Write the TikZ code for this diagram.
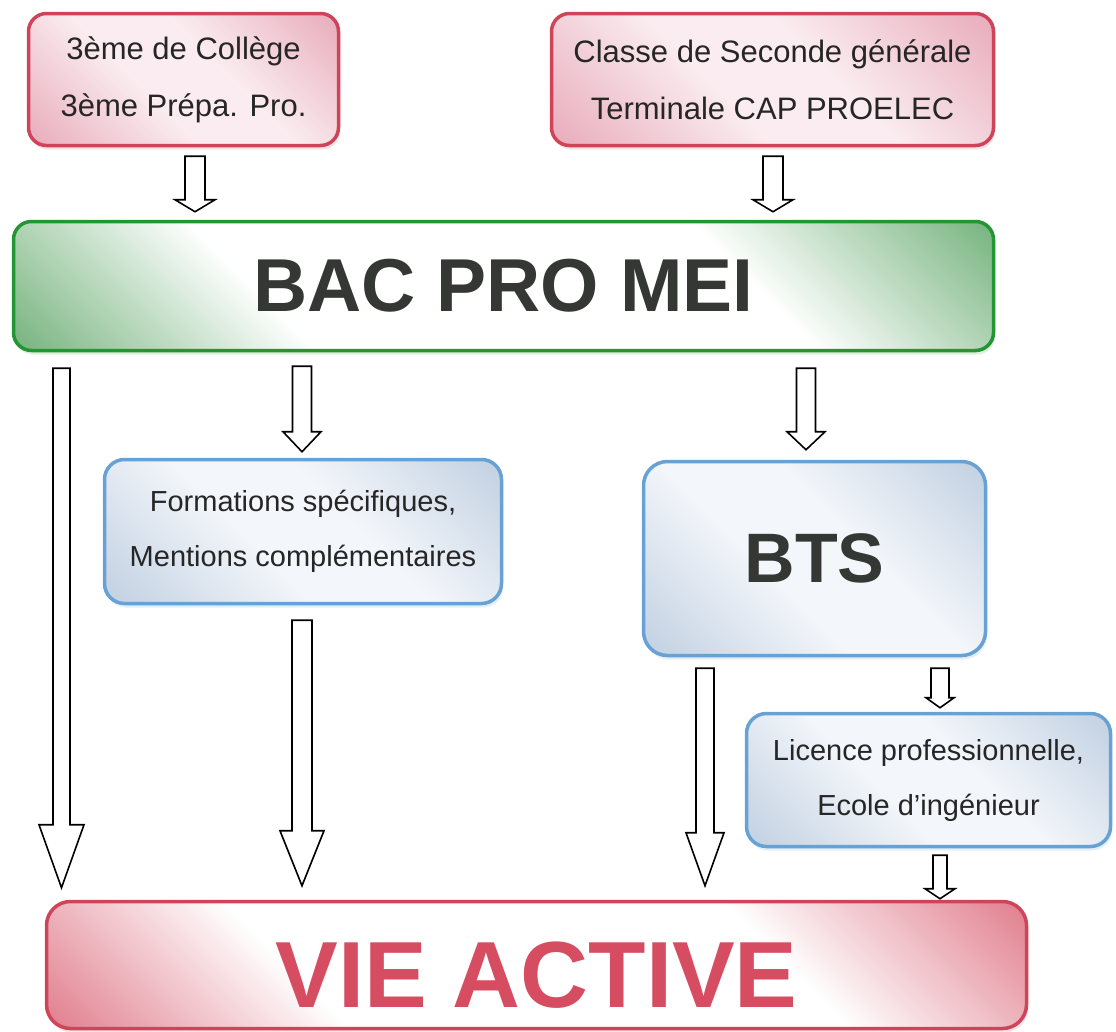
\documentclass[tikz,border=0pt]{standalone}
\usepackage{fontspec}
\setmainfont{Liberation Sans}
\usepackage{tikz}
\usetikzlibrary{calc,shadows}

\definecolor{redline}{RGB}{208,68,90}
\definecolor{pinkedge}{RGB}{232,170,186}
\definecolor{pinkmid}{RGB}{250,236,240}
\definecolor{greenline}{RGB}{34,150,52}
\definecolor{greenedge}{RGB}{72,154,82}
\definecolor{blueline}{RGB}{104,162,212}
\definecolor{blueedge}{RGB}{192,207,225}
\definecolor{bluemid}{RGB}{243,246,250}
\definecolor{vieedge}{RGB}{214,82,102}
\definecolor{darktext}{RGB}{52,55,52}
\definecolor{vietext}{RGB}{214,76,96}

\pgfdeclarehorizontalshading{pinkshade}{100bp}{color(0bp)=(pinkedge); color(14bp)=(pinkedge); color(42bp)=(pinkmid); color(58bp)=(pinkmid); color(86bp)=(pinkedge); color(100bp)=(pinkedge)}
\pgfdeclarehorizontalshading{greenshade}{100bp}{color(0bp)=(greenedge); color(8bp)=(greenedge); color(34bp)=(white); color(66bp)=(white); color(92bp)=(greenedge); color(100bp)=(greenedge)}
\pgfdeclarehorizontalshading{blueshade}{100bp}{color(0bp)=(blueedge); color(14bp)=(blueedge); color(42bp)=(bluemid); color(58bp)=(bluemid); color(86bp)=(blueedge); color(100bp)=(blueedge)}
\pgfdeclarehorizontalshading{vieshade}{100bp}{color(0bp)=(vieedge); color(8bp)=(vieedge); color(34bp)=(white); color(66bp)=(white); color(92bp)=(vieedge); color(100bp)=(vieedge)}

\tikzset{
  box/.style={rounded corners=18pt, line width=3.5pt, align=center, inner sep=0pt, shade},
  redbox/.style={box, draw=redline, shading=pinkshade, shading angle=45,
    drop shadow={shadow xshift=1.5pt, shadow yshift=-4pt, fill=redline!30},
    font=\fontsize{31}{57}\selectfont, text=black!85},
  bacbox/.style={box, draw=greenline, shading=greenshade, shading angle=45,
    drop shadow={shadow xshift=1.5pt, shadow yshift=-4pt, fill=greenline!30},
    font=\bfseries\fontsize{75}{75}\selectfont, text=darktext},
  bluebox/.style={box, rounded corners=20pt, draw=blueline, shading=blueshade, shading angle=45,
    drop shadow={shadow xshift=1.5pt, shadow yshift=-4pt, fill=blueline!35},
    font=\fontsize{29}{55}\selectfont, text=black!85},
  btsbox/.style={bluebox, rounded corners=24pt, font=\bfseries\fontsize{70}{70}\selectfont, text=darktext},
  viebox/.style={box, rounded corners=24pt, draw=redline, shading=vieshade, shading angle=45,
    drop shadow={shadow xshift=1.5pt, shadow yshift=-4pt, fill=redline!30},
    font=\bfseries\fontsize{94}{94}\selectfont, text=vietext, text height=85pt, text depth=0pt},
  hollowarrow/.style={draw=black, fill=white, line width=1.6pt, line join=miter}
}

\begin{document}
\begin{tikzpicture}[x=1pt, y=-1pt]
    \useasboundingbox (0,0) rectangle (1116,1031);

    % Entry classes
    \node[redbox, minimum width=310pt, minimum height=132pt] (col) at (183.5,79.5) {3ème de Collège\\3ème Prépa. Pro.};
    \node[redbox, minimum width=442pt, minimum height=132pt] (sec) at (772.5,79.5) {Classe de Seconde générale\\Terminale CAP PROELEC};

    % Bac pro
    \node[bacbox, minimum width=980pt, minimum height=129pt] (bac) at (503.5,286) {BAC PRO MEI};

    % After the bac
    \node[bluebox, minimum width=397pt, minimum height=144pt] (form) at (303,531.5) {Formations spécifiques,\\Mentions complémentaires};
    \node[btsbox, minimum width=342pt, minimum height=194pt] (bts) at (814.5,558.5) {BTS};
    \node[bluebox, minimum width=364pt, minimum height=133pt] (lic) at (928.5,780) {Licence professionnelle,\\Ecole d’ingénieur};

    % Working life
    \node[viebox, minimum width=980pt, minimum height=127pt] (vie) at (536.5,965) {VIE ACTIVE};

    % Hollow arrows: from/to/x/half shaft/half head/head length/gap top/gap bottom
    \foreach \from/\to/\xx/\sh/\hh/\hl/\ga/\gb in {
        col/bac/195/10/20/12/9/8,
        sec/bac/773/10/20/12/9/8,
        bac/vie/61.5/8.5/22.5/63/16/12,
        bac/form/302/9.5/19/20/14/6,
        bac/bts/806/9.5/19/18/16/10,
        form/vie/302/10/22/55/15/14,
        bts/vie/705/9/19/53/11/14,
        bts/lic/940/9/14/10/11/4,
        lic/vie/940/7/15/10/7/1}
        \draw[hollowarrow] let \p1=(\from.south), \p2=(\to.north) in
            (\xx pt-\sh pt,\y1-\ga pt) -- (\xx pt+\sh pt,\y1-\ga pt)
            -- (\xx pt+\sh pt,\y2+\gb pt+\hl pt) -- (\xx pt+\hh pt,\y2+\gb pt+\hl pt)
            -- (\xx pt,\y2+\gb pt) -- (\xx pt-\hh pt,\y2+\gb pt+\hl pt)
            -- (\xx pt-\sh pt,\y2+\gb pt+\hl pt) -- cycle;
\end{tikzpicture}
\end{document}
